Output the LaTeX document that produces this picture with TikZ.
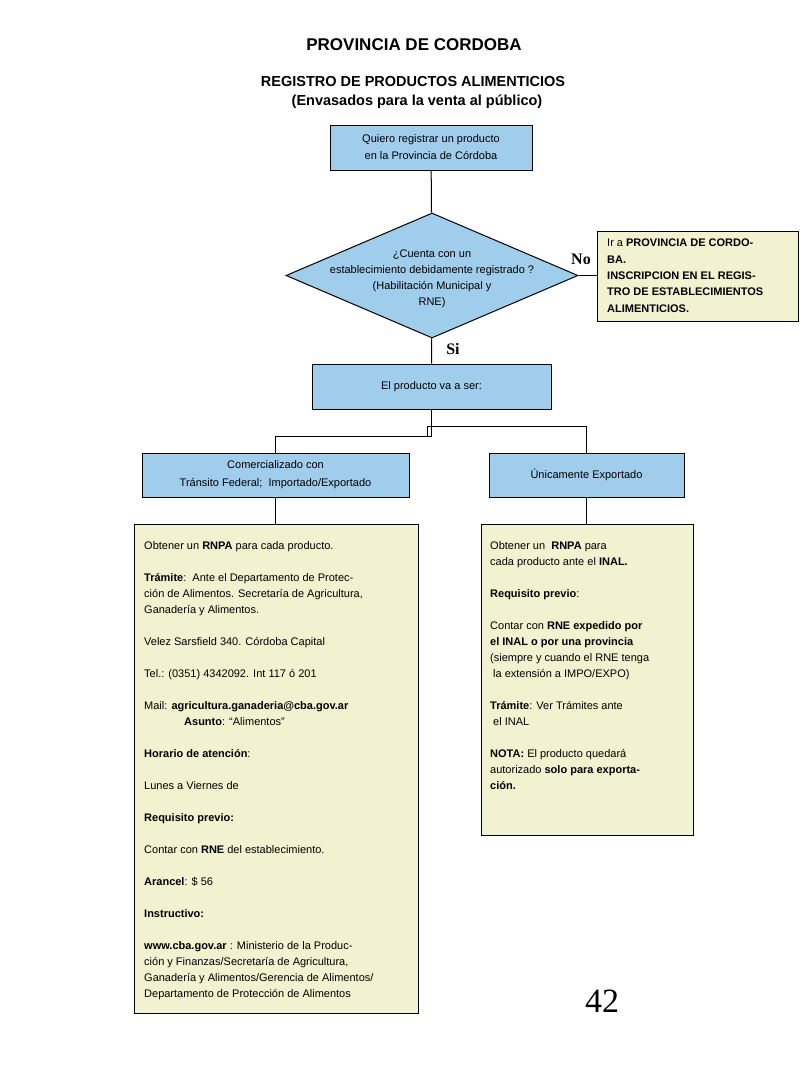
\documentclass[tikz,border=0pt]{standalone}
\usepackage{fontspec}
\setmainfont{Liberation Sans}
\newfontfamily\seriffont{Liberation Serif}
\usetikzlibrary{shapes.geometric}
\usetikzlibrary{positioning}
\definecolor{boxblue}{RGB}{160,205,235}
\definecolor{noteyellow}{RGB}{242,242,208}
\tikzstyle{bluebox}=[rectangle,draw=black,fill=boxblue,line width=1pt,inner sep=0pt,align=center,font=\fontsize{11}{17}\selectfont]
\tikzstyle{notebox}=[rectangle,draw=black,fill=noteyellow,line width=1pt,inner sep=0pt]
\tikzstyle{notetext}=[anchor=north west,inner sep=0pt,align=left,font=\fontsize{11}{16}\selectfont]
\tikzstyle{edge}=[draw,line width=1pt]
\tikzstyle{answer}=[anchor=base,inner sep=0pt,font=\seriffont\bfseries\fontsize{16}{16}\selectfont]
\tikzstyle{heading}=[anchor=base,inner sep=0pt,font=\bfseries\fontsize{14.5}{14.5}\selectfont]

\begin{document}
\begin{tikzpicture}[x=1pt,y=-1pt]

  \useasboundingbox[fill=white] (0,0) rectangle (800,1066);

  % titles
  \node[heading,font=\bfseries\fontsize{17}{17}\selectfont] (title) at (414,50) {PROVINCIA DE CORDOBA};
  \node[heading] (subtitle) at (413,86) {REGISTRO DE PRODUCTOS ALIMENTICIOS};
  \node[heading] (subsubtitle) at (417,105) {(Envasados para la venta al público)};

  % flow boxes
  \node[bluebox,minimum width=202,minimum height=45] (start) at (431,147.5)
       {Quiero registrar un producto\\en la Provincia de Córdoba};
  \node[diamond,draw=black,fill=boxblue,line width=1pt,inner sep=0pt,
        minimum width=292,minimum height=125] (question) at (432,275.5) {};
  \node[align=center,inner sep=0pt,font=\fontsize{11}{16}\selectfont] (qtext) at ([yshift=-3pt]question)
       {¿Cuenta con un\\establecimiento debidamente registrado ?\\(Habilitación Municipal y\\RNE)};
  \node[notebox,minimum width=201,minimum height=90,anchor=north west] (nobox) at (597,231) {};
  \node[notetext,font=\fontsize{11}{16.3}\selectfont] (notext) at (607,239)
       {Ir a \textbf{PROVINCIA DE CORDO-}\\\textbf{BA.}\\\textbf{INSCRIPCION EN EL REGIS-}\\\textbf{TRO DE ESTABLECIMIENTOS}\\\textbf{ALIMENTICIOS.}};
  \node[bluebox,minimum width=239,minimum height=45] (product) at (431.5,386.5) {El producto va a ser:};
  \node[bluebox,minimum width=267,minimum height=44,font=\fontsize{11}{18}\selectfont] (federal) at (275.5,475)
       {Comercializado con\\Tránsito Federal;\ \ Importado/Exportado};
  \node[bluebox,minimum width=195,minimum height=44] (export) at (586.5,475) {Únicamente Exportado};

  % note boxes
  \node[notebox,minimum width=284,minimum height=489,anchor=north west] (rnpabox) at (134,524) {};
  \node[notetext] (rnpatext) at (144,541)
       {Obtener un \textbf{RNPA} para cada producto.\\[16pt]
        \textbf{Trámite}:\ \ Ante el Departamento de Protec-\\
        ción de Alimentos. Secretaría de Agricultura,\\
        Ganadería y Alimentos.\\[16pt]
        Velez Sarsfield 340. Córdoba Capital\\[16pt]
        Tel.: (0351) 4342092. Int 117 ó 201\\[16pt]
        Mail: \textbf{agricultura.ganaderia@cba.gov.ar}\\
        \hspace*{40pt}\textbf{Asunto}: “Alimentos”\\[16pt]
        \textbf{Horario de atención}:\\[16pt]
        Lunes a Viernes de\\[16pt]
        \textbf{Requisito previo:}\\[16pt]
        Contar con \textbf{RNE} del establecimiento.\\[16pt]
        \textbf{Arancel}: \$ 56\\[16pt]
        \textbf{Instructivo:}\\[16pt]
        \textbf{www.cba.gov.ar} : Ministerio de la Produc-\\
        ción y Finanzas/Secretaría de Agricultura,\\
        Ganadería y Alimentos/Gerencia de Alimentos/\\
        Departamento de Protección de Alimentos};

  \node[notebox,minimum width=212,minimum height=311,anchor=north west] (inalbox) at (481,524) {};
  \node[notetext] (inaltext) at (490,541)
       {Obtener un\ \ \textbf{RNPA} para\\
        cada producto ante el \textbf{INAL.}\\[16pt]
        \textbf{Requisito previo}:\\[16pt]
        Contar con \textbf{RNE expedido por}\\
        \textbf{el INAL o por una provincia}\\
        (siempre y cuando el RNE tenga\\
        \hspace*{3pt}la extensión a IMPO/EXPO)\\[16pt]
        \textbf{Trámite}: Ver Trámites ante\\
        \hspace*{3pt}el INAL\\[16pt]
        \textbf{NOTA:} El producto quedará\\
        autorizado \textbf{solo para exporta-}\\
        \textbf{ción.}};

  % answers and page number
  \node[answer] (no) at (581,264) {No};
  \node[answer] (si) at (453,354) {Si};
  \node[anchor=base,inner sep=0pt,font=\seriffont\fontsize{34}{34}\selectfont] (page) at (602,1012) {42};

  % connectors
  \draw[edge] (start) -- (question);
  \draw[edge] (question.east) -- (question.east -| nobox.west);
  \draw[edge] (question) -- (product);
  \coordinate (split) at (427,436);
  \draw[edge] (product.south) -- (product.south |- split) -| (federal.north);
  \draw[edge] (split) -- ++(0,-10) -| (export.north);
  \draw[edge] (federal) -- (federal |- rnpabox.north);
  \draw[edge] (export) -- (export |- inalbox.north);

\end{tikzpicture}
\end{document}
